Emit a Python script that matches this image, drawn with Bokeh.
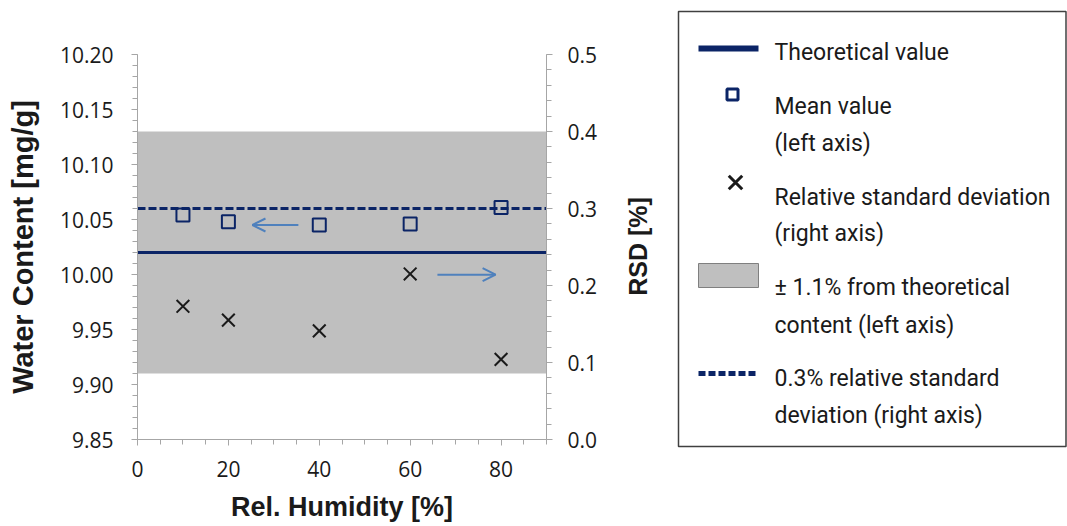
import math
from bokeh.plotting import figure
from bokeh.layouts import row, column
from bokeh.models import (Range1d, LinearAxis, FixedTicker, NumeralTickFormatter,
                          Arrow, OpenHead)
from bokeh.core.properties import value
from bokeh.embed import file_html
from bokeh.resources import INLINE

# ---------------- data ----------------
humidity = [10, 20, 40, 60, 80]
mean_content = [10.054, 10.048, 10.045, 10.046, 10.061]
rsd_values = [0.173, 0.155, 0.141, 0.215, 0.104]
theoretical = 10.02
band_low = 9.91
band_high = 10.13
rsd_limit = 0.3

x_min, x_max = 0, 90
y_min, y_max = 9.85, 10.20
r_min, r_max = 0.0, 0.5

x_ticks = [0, 20, 40, 60, 80]
x_minor = [5 * k for k in range(0, 19)]
y_ticks = [9.85, 9.90, 9.95, 10.00, 10.05, 10.10, 10.15, 10.20]
y_minor = [round(9.85 + 0.01 * k, 2) for k in range(0, 36)]
r_ticks = [0.0, 0.1, 0.2, 0.3, 0.4, 0.5]
r_minor = [round(0.02 * k, 2) for k in range(0, 26)]

right_axis_title = "RSD [%]"

# arrows (annotation positions in data units)
arrow_left = dict(x0=35.4, x1=25.3, y=10.045)
arrow_right = dict(x0=66.0, x1=78.8, y=0.214)

legend_labels = [
    ["Theoretical value"],
    ["Mean value", "(left axis)"],
    ["Relative standard deviation", "(right axis)"],
    ["\u00b1 1.1% from theoretical", "content (left axis)"],
    ["0.3% relative standard", "deviation (right axis)"],
]

NAVY = "#0b2466"
GREY_AX = "#a6a6a6"
TXT = "#1a1a1a"
ARROW_C = "#4f81bd"
TICK_FONT = "Open Sans"
TITLE_FONT = "Liberation Sans"

# ---------------- main chart ----------------
p = figure(width=600, height=526, x_range=Range1d(x_min, x_max),
           y_range=Range1d(y_min, y_max + 1e-6),
           output_backend="svg", toolbar_location=None,
           min_border_left=137, min_border_right=54, min_border_top=54, min_border_bottom=87,
           x_axis_label="Rel. Humidity [%]", y_axis_label="Water Content [mg/g]")
p.extra_y_ranges = {"rsd": Range1d(r_min, r_max + 1e-7)}
p.outline_line_color = None
p.grid.visible = False
p.background_fill_color = "white"
p.border_fill_color = "white"

p.quad(left=[x_min], right=[x_max], bottom=[band_low], top=[band_high],
       fill_color="#bfbfbf", line_color=None)
p.line(x=[x_min, x_max], y=[theoretical, theoretical], line_color=NAVY, line_width=3)
p.line(x=[x_min, x_max], y=[rsd_limit, rsd_limit], y_range_name="rsd",
       line_color=NAVY, line_width=3, line_dash="8 3")
p.scatter(humidity, mean_content, marker="square", size=13, fill_color=None,
          line_color=NAVY, line_width=2)
p.scatter(humidity, rsd_values, marker="x", size=18, line_color=TXT, line_width=2,
          y_range_name="rsd")

p.add_layout(Arrow(end=OpenHead(size=13, line_color=ARROW_C, line_width=2),
                   x_start=arrow_left["x0"], y_start=arrow_left["y"],
                   x_end=arrow_left["x1"], y_end=arrow_left["y"],
                   line_color=ARROW_C, line_width=2))
p.add_layout(Arrow(end=OpenHead(size=13, line_color=ARROW_C, line_width=2),
                   x_start=arrow_right["x0"], y_start=arrow_right["y"],
                   x_end=arrow_right["x1"], y_end=arrow_right["y"],
                   line_color=ARROW_C, line_width=2, y_range_name="rsd"))

raxis = LinearAxis(y_range_name="rsd")
p.add_layout(raxis, "right")

def style_axis(ax, tick_size, title_size, title_standoff):
    ax.axis_line_color = GREY_AX
    ax.axis_line_width = 1
    ax.major_tick_line_color = GREY_AX
    ax.minor_tick_line_color = GREY_AX
    ax.major_tick_in = 0
    ax.major_tick_out = 6
    ax.minor_tick_in = 0
    ax.minor_tick_out = 5
    ax.major_label_text_font = TICK_FONT
    ax.major_label_text_font_size = tick_size
    ax.major_label_text_color = TXT
    ax.axis_label_text_font = TITLE_FONT
    ax.axis_label_text_font_style = "bold"
    ax.axis_label_text_font_size = title_size
    ax.axis_label_text_color = TXT
    ax.axis_label_standoff = title_standoff

xax = p.xaxis[0]
yax = p.yaxis[0]
style_axis(xax, "21px", "27px", 12)
style_axis(yax, "21px", "29px", 18)
style_axis(raxis, "21px", "25px", 10)
xax.ticker = FixedTicker(ticks=x_ticks, minor_ticks=x_minor)
xax.formatter = NumeralTickFormatter(format="0")
xax.major_label_standoff = 15
yax.ticker = FixedTicker(ticks=y_ticks, minor_ticks=y_minor)
yax.formatter = NumeralTickFormatter(format="0.00")
yax.major_label_standoff = 18
raxis.ticker = FixedTicker(ticks=r_ticks, minor_ticks=r_minor)
raxis.formatter = NumeralTickFormatter(format="0.0")
raxis.major_label_standoff = 15

# ---------------- right title + legend panel ----------------
lg = figure(width=467, height=526, x_range=Range1d(600, 1067), y_range=Range1d(526, 0),
            x_axis_type=None, y_axis_type=None, output_backend="svg", toolbar_location=None,
            min_border=0, min_border_left=0, min_border_right=0, min_border_top=0,
            min_border_bottom=0, frame_width=467, frame_height=526)
lg.outline_line_color = None
lg.background_fill_color = "white"
lg.border_fill_color = "white"

lg.text(x=[637], y=[246], text=[right_axis_title], angle=math.pi / 2,
        text_font=value(TITLE_FONT), text_font_style="bold", text_font_size="25px",
        text_color=TXT, text_align="center", text_baseline="middle")

lg.quad(left=[678], right=[1065.5], top=[11], bottom=[446], fill_color=None,
        line_color="#404040", line_width=1.5)
lg.segment(x0=[698], y0=[48], x1=[758], y1=[48], line_color=NAVY, line_width=6)
lg.scatter([732], [94], marker="square", size=11, fill_color=None, line_color=NAVY, line_width=3)
lg.scatter([735], [182], marker="x", size=19, line_color=TXT, line_width=3)
lg.quad(left=[698], right=[758], top=[263], bottom=[287], fill_color="#bfbfbf",
        line_color="#7f7f7f", line_width=1)
lg.segment(x0=[698], y0=[373], x1=[758], y1=[373], line_color=NAVY, line_width=5,
           line_dash="7 3")

baselines = [[52], [106, 143], [197, 233], [287, 325], [378, 415]]
tx, ty, tt = [], [], []
for lines, bls in zip(legend_labels, baselines):
    for s, b in zip(lines, bls):
        tx.append(774)
        ty.append(b)
        tt.append(s)
lg.text(x=tx, y=ty, text=tt, text_font=value("Roboto"), text_font_size="23px",
        text_color=TXT, text_baseline="alphabetic", text_align="left")

layout = row(column(p), column(lg))
open("out.html", "w").write(file_html(layout, INLINE))
